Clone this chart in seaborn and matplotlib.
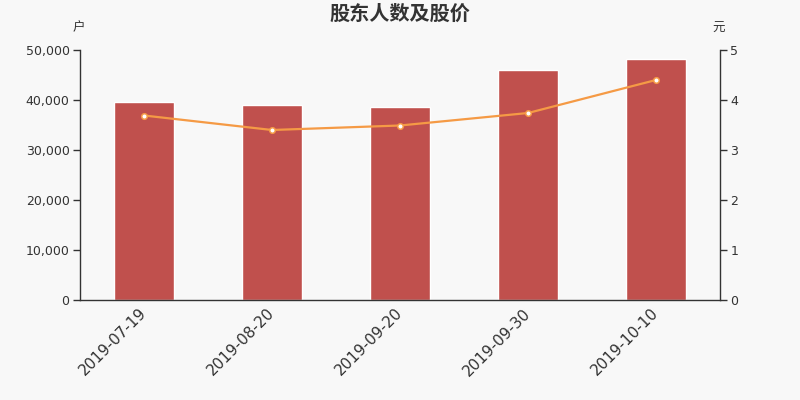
import matplotlib
matplotlib.use("Agg")
import matplotlib.pyplot as plt
import matplotlib.transforms as mtransforms
import seaborn as sns
import pandas as pd
from matplotlib.ticker import FuncFormatter, FixedLocator

dates = ["2019-07-19", "2019-08-20", "2019-09-20", "2019-09-30", "2019-10-10"]
holders = [39600, 39000, 38550, 45950, 48150]
prices = [3.69, 3.40, 3.49, 3.74, 4.40]
left_ticks = [0, 10000, 20000, 30000, 40000, 50000]
right_ticks = [0, 1, 2, 3, 4, 5]

sns.set_theme(style="white")
plt.rcParams['font.family'] = ['Noto Sans CJK SC', 'DejaVu Sans']

df = pd.DataFrame({"date": dates, "holders": holders, "price": prices})

bg = "#f8f8f8"
fig = plt.figure(figsize=(8, 4), dpi=100, facecolor=bg)
ax = fig.add_axes([0.1, 0.25, 0.8, 0.625])
ax.set_facecolor(bg)

sns.barplot(data=df, x="date", y="holders", color="#c0504d", saturation=1,
            width=0.47, ax=ax)
ax.set_xlim(-0.5, 4.5)
ax.set_ylim(0, 50000)
ax.yaxis.set_major_locator(FixedLocator(left_ticks))
ax.yaxis.set_major_formatter(FuncFormatter(lambda v, p: f"{int(v):,}"))
ax.set_xlabel("")
ax.set_ylabel("")

ax2 = ax.twinx()
sns.lineplot(data=df, x="date", y="price", ax=ax2, color="#f59a45", linewidth=1.6,
             marker="o", markersize=4, markerfacecolor="white",
             markeredgecolor="#f59a45", markeredgewidth=1.1, sort=False)
ax2.set_ylim(0, 5)
ax2.yaxis.set_major_locator(FixedLocator(right_ticks))
ax2.set_xlabel("")
ax2.set_ylabel("")
ax2.set_xlim(-0.5, 4.5)

axis_col = "#333333"
for a in (ax, ax2):
    for s in a.spines.values():
        s.set_visible(False)
ax.spines["left"].set_visible(True)
ax.spines["bottom"].set_visible(True)
ax2.spines["right"].set_visible(True)
for s in (ax.spines["left"], ax.spines["bottom"], ax2.spines["right"]):
    s.set_color(axis_col)
    s.set_linewidth(1.0)

ax.set_xticks(range(len(dates)))
ax.set_xticklabels(dates, rotation=45, ha="right", rotation_mode="anchor",
                   fontsize=11, color=axis_col, family=['DejaVu Sans'])
ax.tick_params(axis="x", which="major", length=0, pad=4)
offset = mtransforms.ScaledTranslation(-5 / 100, 0, fig.dpi_scale_trans)
for lab in ax.get_xticklabels():
    lab.set_transform(lab.get_transform() + offset)
ax.set_xticks([i - 0.5 for i in range(len(dates) + 1)], minor=True)
ax.tick_params(axis="x", which="minor", length=5, color=axis_col, width=1)
ax.tick_params(axis="y", which="major", length=5, color=axis_col, width=1,
               labelsize=9, labelcolor=axis_col, left=True, pad=2.5)
ax2.tick_params(axis="y", which="major", length=5, color=axis_col, width=1,
                labelsize=9, labelcolor=axis_col, right=True, pad=2.5)
for lab in ax.get_yticklabels() + ax2.get_yticklabels():
    lab.set_family(['DejaVu Sans'])

fig.text(0.5, 0.967, "股东人数及股价", ha="center", va="center", fontsize=14.5,
         fontweight="bold", color=axis_col)
fig.text(0.098, 0.93, "户", ha="center", va="center", fontsize=9, color=axis_col)
fig.text(0.898, 0.93, "元", ha="center", va="center", fontsize=9, color=axis_col)

fig.savefig("out.png", dpi=100, facecolor=bg)
